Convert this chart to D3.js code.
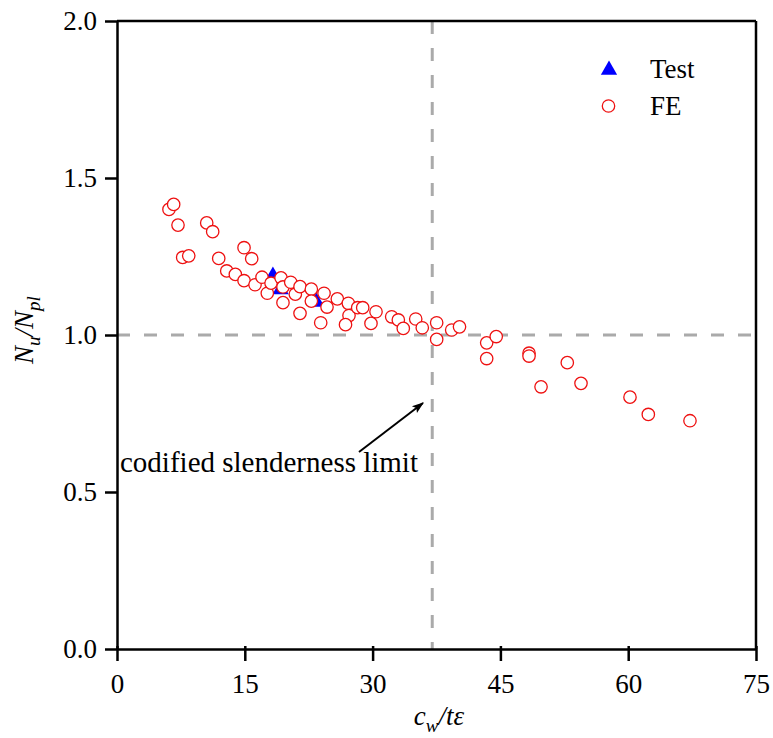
<!DOCTYPE html>
<html>
<head>
<meta charset="utf-8">
<script src="https://cdn.jsdelivr.net/npm/d3@7"></script>
<style>
  body { margin: 0; background: #fff; }
  text { font-family: "Liberation Serif", "Times New Roman", serif; fill: #000; }
</style>
</head>
<body>
<svg width="773" height="738"></svg>
<script>
// FE results (slenderness, normalised capacity)
const feX = [6.10, 6.65, 7.16, 10.53, 11.23, 7.71, 8.42, 11.94, 14.91, 15.81,
  12.88, 13.89, 14.91, 16.20, 17.02, 17.64, 18.08, 19.25, 19.48, 19.48,
  20.39, 20.93, 21.48, 21.48, 22.81, 22.81, 23.91, 24.30, 24.65, 25.86,
  27.15, 27.23, 26.82, 28.25, 28.84, 30.40, 29.81, 32.24, 33.02, 33.60,
  35.06, 35.83, 37.52, 37.52, 39.28, 40.20, 43.39, 43.39, 44.51, 48.36,
  48.36, 49.77, 52.85, 54.46, 60.21, 62.36, 67.25];
const feY = [1.400, 1.416, 1.350, 1.357, 1.329, 1.247, 1.252, 1.244, 1.278, 1.243,
  1.204, 1.193, 1.173, 1.160, 1.184, 1.133, 1.165, 1.182, 1.153, 1.103,
  1.168, 1.130, 1.154, 1.069, 1.146, 1.108, 1.039, 1.133, 1.089, 1.115,
  1.101, 1.062, 1.033, 1.087, 1.087, 1.074, 1.037, 1.058, 1.048, 1.021,
  1.051, 1.023, 1.039, 0.986, 1.016, 1.026, 0.975, 0.925, 0.995, 0.942,
  0.933, 0.835, 0.912, 0.846, 0.802, 0.747, 0.727];

// Test results
const testX = [18.3, 19.2, 23.4];
const testY = [1.188, 1.145, 1.105];

const xTicks = [0, 15, 30, 45, 60, 75];
const yTicks = [0.0, 0.5, 1.0, 1.5, 2.0];
const slendernessLimit = 37;

const margin = {top: 21, right: 17, bottom: 89, left: 117},
  width = 773 - margin.left - margin.right,
  height = 738 - margin.top - margin.bottom;

const svg = d3.select("svg");
const g = svg.append("g").attr("transform", `translate(${margin.left},${margin.top})`);

const x = d3.scaleLinear().domain([0, 75]).range([0, width]);
const y = d3.scaleLinear().domain([0, 2]).range([height, 0]);

// reference lines
const dash = {stroke: "#aaaaaa", w: 3, arr: "13,14"};
g.append("line")
  .attr("x1", 0).attr("x2", width)
  .attr("y1", y(1)).attr("y2", y(1))
  .attr("stroke", dash.stroke).attr("stroke-width", dash.w)
  .attr("stroke-dasharray", dash.arr);
g.append("line")
  .attr("x1", x(slendernessLimit)).attr("x2", x(slendernessLimit))
  .attr("y1", 0).attr("y2", height)
  .attr("stroke", dash.stroke).attr("stroke-width", dash.w)
  .attr("stroke-dasharray", dash.arr);

// axes
const xAxis = g.append("g").attr("transform", `translate(0,${height})`)
  .call(d3.axisBottom(x).tickValues(xTicks).tickSize(12).tickSizeOuter(0).tickFormat(d3.format("d")));
const yAxis = g.append("g")
  .call(d3.axisLeft(y).tickValues(yTicks).tickSize(12).tickSizeOuter(0).tickFormat(d3.format(".1f")));
[xAxis, yAxis].forEach(a => {
  a.attr("font-family", null).attr("font-size", null);
  a.selectAll("path").attr("stroke", "#000").attr("stroke-width", 2.5);
  a.selectAll("line").attr("stroke", "#000").attr("stroke-width", 2.5);
  a.selectAll("text").style("font-family", '"Liberation Serif", serif').style("font-size", "27px").attr("fill", "#000");
});
// x ticks cross the axis line slightly
xAxis.selectAll(".tick line").attr("y1", -3);
xAxis.selectAll("text").attr("y", 0).attr("dy", null).attr("transform", "translate(0,44)");
yAxis.selectAll("text").attr("x", -20).attr("dy", "0.33em");

// frame top + right
g.append("line").attr("x1", 0).attr("x2", width).attr("y1", 0).attr("y2", 0)
  .attr("stroke", "#000").attr("stroke-width", 2.5);
g.append("line").attr("x1", width).attr("x2", width).attr("y1", 0).attr("y2", height)
  .attr("stroke", "#000").attr("stroke-width", 2.5);

// test points (triangles)
const tri = d3.symbol().type(d3.symbolTriangle).size(115);
g.selectAll("path.test")
  .data(d3.zip(testX, testY))
  .join("path")
  .attr("class", "test")
  .attr("d", tri)
  .attr("transform", d => `translate(${x(d[0])},${y(d[1])})`)
  .attr("fill", "#0000ff");

// FE points (open circles, white filled)
g.selectAll("circle.fe")
  .data(d3.zip(feX, feY))
  .join("circle")
  .attr("class", "fe")
  .attr("cx", d => x(d[0]))
  .attr("cy", d => y(d[1]))
  .attr("r", 6.2)
  .attr("fill", "#fff")
  .attr("stroke", "#ee1111")
  .attr("stroke-width", 1.3);

// legend
const leg = svg.append("g");
leg.append("path").attr("d", tri).attr("transform", "translate(609,70)").attr("fill", "#0000ff");
leg.append("text").attr("x", 650).attr("y", 78).style("font-size", "27px").text("Test");
leg.append("circle").attr("cx", 608.5).attr("cy", 106).attr("r", 6.2)
  .attr("fill", "#fff").attr("stroke", "#ee1111").attr("stroke-width", 1.3);
leg.append("text").attr("x", 650).attr("y", 115).style("font-size", "27px").text("FE");

// annotation
svg.append("defs").append("marker")
  .attr("id", "arrow").attr("viewBox", "0 0 10 10")
  .attr("refX", 9).attr("refY", 5)
  .attr("markerUnits", "userSpaceOnUse")
  .attr("markerWidth", 16).attr("markerHeight", 12)
  .attr("orient", "auto")
  .append("path").attr("d", "M0,1.5 L10,5 L0,8.5 L2,5 Z").attr("fill", "#000");
svg.append("line")
  .attr("x1", 359).attr("y1", 452).attr("x2", 423).attr("y2", 403)
  .attr("stroke", "#000").attr("stroke-width", 2)
  .attr("marker-end", "url(#arrow)");
svg.append("text").attr("x", 120).attr("y", 472)
  .style("font-size", "29px").text("codified slenderness limit");

// axis titles
const xt = svg.append("text").attr("x", 439).attr("y", 725)
  .attr("text-anchor", "middle").style("font-size", "27px").style("font-style", "italic");
xt.append("tspan").text("c");
xt.append("tspan").attr("dy", 7).style("font-size", "19px").text("w");
xt.append("tspan").attr("dy", -7).text("/tε");

const yt = svg.append("text")
  .attr("transform", `translate(33,330) rotate(-90)`)
  .attr("text-anchor", "middle").style("font-size", "27px").style("font-style", "italic");
yt.append("tspan").text("N");
yt.append("tspan").attr("dy", 7).style("font-size", "19px").text("u");
yt.append("tspan").attr("dy", -7).text("/N");
yt.append("tspan").attr("dy", 7).style("font-size", "19px").text("pl");
</script>
</body>
</html>
